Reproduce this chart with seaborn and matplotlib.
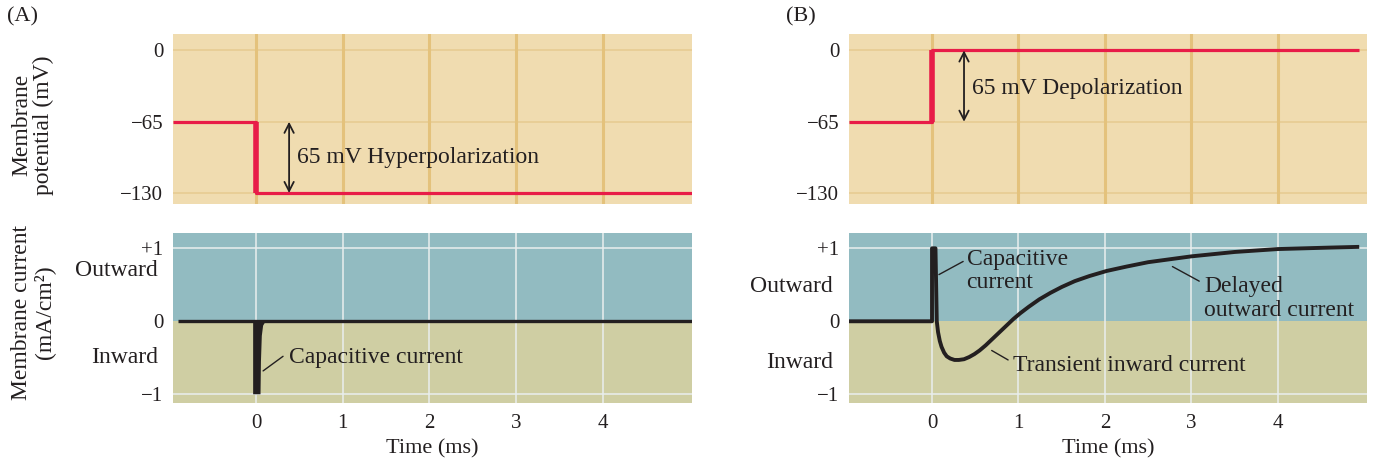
import matplotlib
matplotlib.use("Agg")
import matplotlib.pyplot as plt
import matplotlib.transforms as mtransforms
import seaborn as sns
import pandas as pd

# ---- axis ticks and labels ----
time_ticks = [0, 1, 2, 3, 4]
time_labels = ["0", "1", "2", "3", "4"]
voltage_ticks = [0, -65, -130]
voltage_labels = ["0", "\u221265", "\u2212130"]
current_ticks = [1, 0, -1]
current_labels = ["+1", "0", "\u22121"]

# ---- (A) hyperpolarizing step ----
hyper_t = [-0.96, 0.0, 0.0, 5.03]
hyper_v = [-65, -65, -130, -130]
hyper_cur_t = [-0.9, 5.03]
hyper_cur_i = [0.0, 0.0]
# outline of the brief capacitive transient (inward)
cap_a_t = [-0.035, -0.035, 0.05, 0.055, 0.065, 0.08, 0.11]
cap_a_i = [0.0, -1.0, -1.0, -0.55, -0.2, -0.06, 0.0]

# ---- (B) depolarizing step ----
depol_t = [-0.96, 0.0, 0.0, 4.94]
depol_v = [-65, -65, 0, 0]
depol_cur_t = [-0.96, 0.0, 0.0, 0.04, 0.055, 0.07, 0.09, 0.11, 0.14, 0.17,
               0.21, 0.26, 0.31, 0.37, 0.43, 0.49, 0.55, 0.62, 0.70, 0.78,
               0.86, 0.94, 1.02, 1.12, 1.24, 1.37, 1.50, 1.65, 1.82, 2.02,
               2.25, 2.50, 2.75, 3.00, 3.25, 3.50, 3.75, 4.00, 4.30, 4.60, 4.94]
depol_cur_i = [0.0, 0.0, 1.0, 1.0, 0.0, -0.15, -0.27, -0.35, -0.43, -0.48,
               -0.51, -0.53, -0.53, -0.52, -0.49, -0.45, -0.40, -0.33, -0.24, -0.15,
               -0.06, 0.03, 0.11, 0.20, 0.30, 0.39, 0.47, 0.55, 0.62, 0.69,
               0.75, 0.81, 0.85, 0.89, 0.92, 0.95, 0.97, 0.99, 1.00, 1.01, 1.02]

# ---- styling ----
sns.set_theme(style="white")
plt.rcParams["font.family"] = ["Liberation Serif", "DejaVu Serif"]
plt.rcParams["axes.unicode_minus"] = True

INK = "#231f20"
RED = "#e81c48"
TAN = "#f0dcb0"
TAN_V = "#e4c27c"
TAN_H = "#e8cd95"
BLUE = "#92bbc1"
OLIVE = "#cfcea3"
GRID_W = "#e9eeee"
TICK_FS = 15
TEXT_FS = 17
AXLABEL_FS = 16

XLIM = (-0.96, 5.03)
VLIM = (-140, 15)
ILIM = (-1.12, 1.21)

fig = plt.figure(figsize=(13.73, 4.62), dpi=100)
W, H = 1373, 462


def axes_px(left, top, right, bottom):
    return fig.add_axes([left / W, 1 - bottom / H, (right - left) / W, (bottom - top) / H])


ax_a_v = axes_px(173, 34, 692, 204)
ax_a_i = axes_px(173, 233, 692, 403)
ax_b_v = axes_px(849, 34, 1367, 204)
ax_b_i = axes_px(849, 233, 1367, 403)


def style_voltage(ax):
    ax.set_facecolor(TAN)
    ax.set_xlim(*XLIM)
    ax.set_ylim(*VLIM)
    for t in time_ticks:
        ax.axvline(t, color=TAN_V, lw=2.2, zorder=0.5)
    for v in voltage_ticks:
        ax.axhline(v, color=TAN_H, lw=1.3, zorder=0.4)
    ax.set_xticks([])
    ax.set_yticks(voltage_ticks)
    ax.set_yticklabels(voltage_labels)
    ax.tick_params(axis="y", length=0, pad=7, labelsize=TICK_FS, labelcolor=INK)
    for s in ax.spines.values():
        s.set_visible(False)
    ax.set_xlabel("")
    ax.set_ylabel("")


def style_current(ax):
    ax.set_xlim(*XLIM)
    ax.set_ylim(*ILIM)
    ax.axhspan(0, ILIM[1], color=BLUE, lw=0, zorder=0.1)
    ax.axhspan(ILIM[0], 0, color=OLIVE, lw=0, zorder=0.1)
    for t in time_ticks:
        ax.axvline(t, color=GRID_W, lw=1.3, alpha=0.85, zorder=0.5)
    for v in (1, -1):
        ax.axhline(v, color=GRID_W, lw=1.3, alpha=0.85, zorder=0.5)
    ax.set_xticks(time_ticks)
    ax.set_xticklabels(time_labels)
    ax.set_yticks(current_ticks)
    ax.set_yticklabels(current_labels)
    ax.tick_params(axis="both", length=0, labelsize=TICK_FS, labelcolor=INK)
    ax.tick_params(axis="y", pad=7)
    ax.tick_params(axis="x", pad=8)
    for s in ax.spines.values():
        s.set_visible(False)
    ax.set_ylabel("")
    ax.set_xlabel("Time (ms)", fontsize=AXLABEL_FS, color=INK)
    ax.xaxis.set_label_coords(0.487, -0.215)
    tr = mtransforms.blended_transform_factory(ax.transAxes, ax.transData)
    return tr


def line(ax, t, y, color, lw):
    df = pd.DataFrame({"t": t, "y": y})
    sns.lineplot(data=df, x="t", y="y", ax=ax, sort=False, estimator=None,
                 color=color, lw=lw, zorder=3, solid_joinstyle="round",
                 solid_capstyle="butt")
    ax.set_ylabel("")


# ---- (A) ----
style_voltage(ax_a_v)
line(ax_a_v, hyper_t, hyper_v, RED, 2.3)
ax_a_v.set_xlabel("")
ax_a_v.vlines(hyper_t[1], hyper_v[1], hyper_v[2], color=RED, lw=4, zorder=3)
ax_a_v.annotate("", xy=(0.38, -130), xytext=(0.38, -65),
                arrowprops=dict(arrowstyle="<->,head_length=0.55,head_width=0.28",
                                color=INK, lw=1.3, shrinkA=0, shrinkB=0))
ax_a_v.text(0.47, -97.5, "65 mV Hyperpolarization", fontsize=TEXT_FS,
            color=INK, va="center", ha="left")
ax_a_v.set_xlim(*XLIM)
ax_a_v.set_ylim(*VLIM)

tr_a = style_current(ax_a_i)
line(ax_a_i, hyper_cur_t, hyper_cur_i, INK, 2.4)
ax_a_i.set_xlabel("Time (ms)", fontsize=AXLABEL_FS, color=INK)
ax_a_i.fill(cap_a_t, cap_a_i, color=INK, lw=0, zorder=3)
ax_a_i.plot([0.08, 0.31], [-0.68, -0.48], color=INK, lw=1.0, zorder=3)
ax_a_i.text(0.38, -0.5, "Capacitive current", fontsize=TEXT_FS, color=INK,
            va="center", ha="left")
ax_a_i.text(-0.029, 0.69, "Outward", transform=tr_a, fontsize=TEXT_FS,
            color=INK, ha="right", va="center")
ax_a_i.text(-0.029, -0.49, "Inward", transform=tr_a, fontsize=TEXT_FS,
            color=INK, ha="right", va="center")
ax_a_i.set_xlim(*XLIM)
ax_a_i.set_ylim(*ILIM)

# ---- (B) ----
style_voltage(ax_b_v)
line(ax_b_v, depol_t, depol_v, RED, 2.3)
ax_b_v.set_xlabel("")
ax_b_v.vlines(depol_t[1], depol_v[1], depol_v[2], color=RED, lw=4, zorder=3)
ax_b_v.annotate("", xy=(0.37, 0), xytext=(0.37, -65),
                arrowprops=dict(arrowstyle="<->,head_length=0.55,head_width=0.28",
                                color=INK, lw=1.3, shrinkA=0, shrinkB=0))
ax_b_v.text(0.46, -35, "65 mV Depolarization", fontsize=TEXT_FS,
            color=INK, va="center", ha="left")
ax_b_v.set_xlim(*XLIM)
ax_b_v.set_ylim(*VLIM)

tr_b = style_current(ax_b_i)
line(ax_b_i, depol_cur_t, depol_cur_i, INK, 2.8)
ax_b_i.set_xlabel("Time (ms)", fontsize=AXLABEL_FS, color=INK)
ax_b_i.plot([0.08, 0.36], [0.64, 0.82], color=INK, lw=1.0, zorder=3)
ax_b_i.text(0.40, 0.69, "Capacitive\ncurrent", fontsize=TEXT_FS, color=INK,
            va="center", ha="left", linespacing=1.15)
ax_b_i.plot([0.69, 0.88], [-0.40, -0.53], color=INK, lw=1.0, zorder=3)
ax_b_i.text(0.94, -0.61, "Transient inward current", fontsize=TEXT_FS,
            color=INK, va="center", ha="left")
ax_b_i.plot([2.78, 3.09], [0.75, 0.55], color=INK, lw=1.0, zorder=3)
ax_b_i.text(3.15, 0.31, "Delayed\noutward current", fontsize=TEXT_FS,
            color=INK, va="center", ha="left", linespacing=1.15)
ax_b_i.text(-0.031, 0.47, "Outward", transform=tr_b, fontsize=TEXT_FS,
            color=INK, ha="right", va="center")
ax_b_i.text(-0.031, -0.57, "Inward", transform=tr_b, fontsize=TEXT_FS,
            color=INK, ha="right", va="center")
ax_b_i.set_xlim(*XLIM)
ax_b_i.set_ylim(*ILIM)

# ---- panel letters and shared y labels ----
fig.text(22 / W, 1 - 17 / H, "(A)", fontsize=AXLABEL_FS, color=INK, ha="center", va="center")
fig.text(801 / W, 1 - 17 / H, "(B)", fontsize=AXLABEL_FS, color=INK, ha="center", va="center")
fig.text(33 / W, 1 - 125 / H, "Membrane\npotential (mV)", rotation=90,
         fontsize=TEXT_FS, color=INK, ha="center", va="center",
         multialignment="center", linespacing=1.05)
fig.text(33 / W, 1 - 312 / H, "Membrane current\n(mA/cm\u00b2)", rotation=90,
         fontsize=TEXT_FS, color=INK, ha="center", va="center",
         multialignment="center", linespacing=1.05)

fig.savefig("out.png", dpi=100, facecolor="white")
